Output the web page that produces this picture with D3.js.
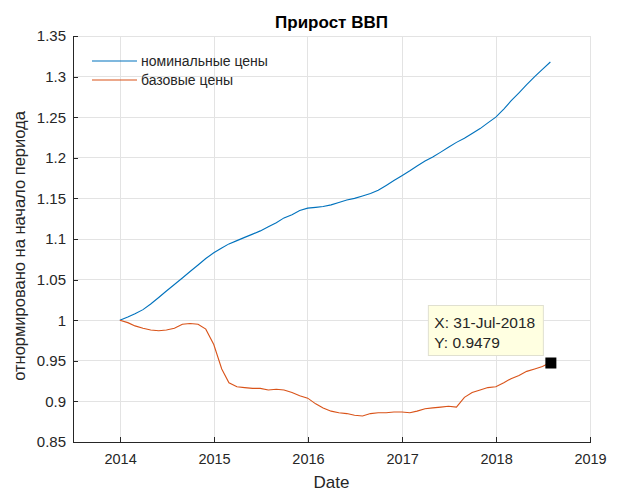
<!DOCTYPE html>
<html><head><meta charset="utf-8">
<script src="https://cdn.jsdelivr.net/npm/d3@7"></script>
<style>
body{margin:0;background:#fff;}
svg{display:block;font-family:"Liberation Sans",Arial,sans-serif;}
</style></head><body>
<svg id="c" width="623" height="491"></svg>
<script>
const dates = ["2013-12-31","2014-01-31","2014-02-28","2014-03-31","2014-04-30","2014-05-31","2014-06-30","2014-07-31","2014-08-31","2014-09-30","2014-10-31","2014-11-30",
"2014-12-31","2015-01-31","2015-02-28","2015-03-31","2015-04-30","2015-05-31","2015-06-30","2015-07-31","2015-08-31","2015-09-30","2015-10-31","2015-11-30",
"2015-12-31","2016-01-31","2016-02-29","2016-03-31","2016-04-30","2016-05-31","2016-06-30","2016-07-31","2016-08-31","2016-09-30","2016-10-31","2016-11-30",
"2016-12-31","2017-01-31","2017-02-28","2017-03-31","2017-04-30","2017-05-31","2017-06-30","2017-07-31","2017-08-31","2017-09-30","2017-10-31","2017-11-30",
"2017-12-31","2018-01-31","2018-02-28","2018-03-31","2018-04-30","2018-05-31","2018-06-30","2018-07-31"];
const nominal = [1.000,1.004,1.008,1.013,1.020,1.028,1.036,1.044,1.052,1.060,1.068,1.076,
1.083,1.089,1.094,1.098,1.102,1.106,1.110,1.115,1.120,1.126,1.130,1.135,
1.138,1.139,1.140,1.142,1.145,1.148,1.150,1.153,1.156,1.160,1.166,1.172,
1.178,1.184,1.190,1.196,1.201,1.207,1.213,1.219,1.224,1.230,1.236,1.243,
1.250,1.260,1.270,1.280,1.290,1.300,1.309,1.318];
const base = [1.000,0.997,0.993,0.990,0.988,0.987,0.988,0.990,0.995,0.996,0.995,0.989,
0.970,0.940,0.923,0.918,0.917,0.916,0.916,0.914,0.915,0.914,0.911,0.907,
0.904,0.897,0.892,0.888,0.886,0.885,0.883,0.882,0.885,0.886,0.886,0.887,
0.887,0.886,0.888,0.891,0.892,0.893,0.894,0.893,0.905,0.911,0.914,0.917,
0.918,0.923,0.928,0.932,0.937,0.940,0.943,0.9479];
const seriesNames = ["номинальные цены","базовые цены"];
const colors = ["#0072BD","#D95319"];
const yTicks = [0.85,0.9,0.95,1,1.05,1.1,1.15,1.2,1.25,1.3,1.35];
const xTickYears = [2014,2015,2016,2017,2018,2019];
const titleText = "Прирост ВВП";
const xLabel = "Date";
const yLabel = "отнормировано на начало периода";
const tipLabelX = "X: 31-Jul-2018";
const tipLabelY = "Y: 0.9479";

const parse = d3.utcParse("%Y-%m-%d");
const dts = dates.map(parse);
const L=73, R=590, T=36, B=442;
const svg = d3.select("#c");
const x = d3.scaleUtc().domain([new Date(Date.UTC(2013,6,2)), new Date(Date.UTC(2019,0,1))]).range([L,R]);
const y = d3.scaleLinear().domain([0.85,1.35]).range([B,T]);

// grid
const g = svg.append("g");
g.selectAll(".gy").data(yTicks).join("line")
 .attr("x1",L).attr("x2",R).attr("y1",d=>y(d)).attr("y2",d=>y(d))
 .attr("stroke","#e3e3e3").attr("stroke-width",1).attr("shape-rendering","crispEdges");
const xtd = xTickYears.map(v=>new Date(Date.UTC(v,0,1)));
g.selectAll(".gx").data(xtd).join("line")
 .attr("x1",d=>x(d)).attr("x2",d=>x(d)).attr("y1",T).attr("y2",B)
 .attr("stroke","#e3e3e3").attr("stroke-width",1).attr("shape-rendering","crispEdges");
g.append("line").attr("x1",R).attr("x2",R).attr("y1",T).attr("y2",B).attr("stroke","#e3e3e3").attr("shape-rendering","crispEdges");
g.append("line").attr("x1",L).attr("x2",R).attr("y1",T).attr("y2",T).attr("stroke","#e3e3e3").attr("shape-rendering","crispEdges");

// axes
const fmtY = d=>String(+d.toFixed(2));
const ya = svg.append("g").attr("transform",`translate(${L},0)`)
 .call(d3.axisLeft(y).tickValues(yTicks).tickFormat(fmtY).tickSizeInner(-5).tickSizeOuter(0).tickPadding(7));
const xa = svg.append("g").attr("transform",`translate(0,${B})`)
 .call(d3.axisBottom(x).tickValues(xtd).tickFormat(d3.utcFormat("%Y")).tickSizeInner(-5).tickSizeOuter(0).tickPadding(12));
[ya,xa].forEach(a=>{
 a.selectAll("path,line").attr("stroke","#262626").attr("shape-rendering","crispEdges");
 a.selectAll("text").attr("fill","#262626");
});
ya.selectAll("text").style("font-size","15px");
xa.selectAll("text").style("font-size","14.5px");

// lines
const line = d3.line().x((d,i)=>x(dts[i])).y(d=>y(d));
[nominal,base].forEach((s,k)=>{
 svg.append("path").datum(s).attr("d",line).attr("fill","none")
  .attr("stroke",colors[k]).attr("stroke-width",1.1);
});

// legend
const lg = svg.append("g");
seriesNames.forEach((n,k)=>{
 const yy = 61 + k*19;
 lg.append("line").attr("x1",92).attr("x2",137).attr("y1",yy).attr("y2",yy).attr("stroke",colors[k]).attr("stroke-width",1.1);
 lg.append("text").attr("x",141).attr("y",yy+5).text(n).style("font-size","14px").attr("fill","#262626");
});

// titles
svg.append("text").attr("x",(L+R)/2).attr("y",28).attr("text-anchor","middle")
 .style("font-size","17px").style("font-weight","bold").attr("fill","#000").text(titleText);
svg.append("text").attr("x",(L+R)/2).attr("y",488).attr("text-anchor","middle")
 .style("font-size","17px").attr("fill","#262626").text(xLabel);
svg.append("text").attr("transform",`translate(25,${(T+B)/2+7}) rotate(-90)`).attr("text-anchor","middle")
 .style("font-size","16.5px").attr("fill","#262626").text(yLabel);

// data tip
const li = dts.length-1;
const px = x(dts[li]), py = y(base[li]);
const tip = svg.append("g");
tip.append("rect").attr("x",px-122).attr("y",py-57).attr("width",115).attr("height",50)
 .attr("fill","#ffffe1").attr("stroke","#e0e0d0");
tip.append("text").attr("x",px-116).attr("y",py-35).text(tipLabelX).style("font-size","15.5px").attr("fill","#262626");
tip.append("text").attr("x",px-116).attr("y",py-15).text(tipLabelY).style("font-size","15.5px").attr("fill","#262626");
tip.append("rect").attr("x",px-5).attr("y",py-5).attr("width",11).attr("height",11).attr("fill","#000");
</script></body></html>
